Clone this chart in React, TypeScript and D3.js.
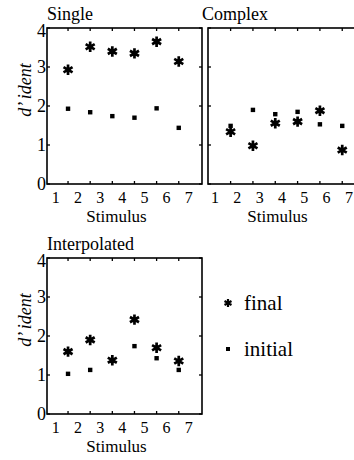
import React from "react";
import * as d3 from "d3";

// ---- data ----
const stimuli = [1, 2, 3, 4, 5, 6];
const tickLabelsX = [1, 2, 3, 4, 5, 6, 7];
const tickLabelsY = [0, 1, 2, 3, 4];

const singleFinal = [2.93, 3.52, 3.4, 3.35, 3.65, 3.14];
const singleInitial = [1.93, 1.84, 1.74, 1.7, 1.94, 1.44];
const complexFinal = [1.34, 0.98, 1.56, 1.6, 1.88, 0.87];
const complexInitial = [1.49, 1.9, 1.79, 1.85, 1.53, 1.49];
const interpFinal = [1.6, 1.9, 1.38, 2.42, 1.7, 1.36];
const interpInitial = [1.03, 1.13, 1.36, 1.74, 1.43, 1.13];

const panelTitles = ["Single", "Complex", "Interpolated"];
const legendLabels = ["final", "initial"];

const W = 354;
const H = 460;
const FONT = "Liberation Serif";

type Panel = {
  title: string;
  final: number[];
  initial: number[];
  x0: number;
  y0: number;
  w: number;
  h: number;
  domX: [number, number];
  off: number;
  showY: boolean;
};

const panels: Panel[] = [
  { title: panelTitles[0], final: singleFinal, initial: singleInitial, x0: 47, y0: 28, w: 155, h: 156, domX: [0.6, 7.6], off: 0.55, showY: true },
  { title: panelTitles[1], final: complexFinal, initial: complexInitial, x0: 208, y0: 28, w: 155, h: 156, domX: [0.687, 7.63], off: 0.7, showY: false },
  { title: panelTitles[2], final: interpFinal, initial: interpInitial, x0: 47, y0: 258, w: 155, h: 156, domX: [0.6, 7.6], off: 0.55, showY: true },
];

const starPath = (r: number) => d3.symbol(d3.symbolAsterisk, r * r * 2.83)();

function Star({ x, y, r = 5.2, sw = 2.7 }: { x: number; y: number; r?: number; sw?: number }) {
  return (
    <g transform={`translate(${x},${y})`}>
      <path d={starPath(r) || ""} stroke="#000" strokeWidth={sw} fill="none" strokeLinecap="butt" />
      <circle r={r * 0.45} fill="#000" />
    </g>
  );
}

const txt = (size: number, extra: React.CSSProperties = {}): React.CSSProperties => ({
  fontFamily: FONT,
  fontSize: size,
  ...extra,
});

function PanelView({ p }: { p: Panel }) {
  const x = d3.scaleLinear().domain(p.domX).range([p.x0, p.x0 + p.w]);
  const y = d3.scaleLinear().domain([0, 4]).range([p.y0 + p.h, p.y0]);
  const tl = 3;
  const bottom = p.y0 + p.h;
  const right = p.x0 + p.w;
  return (
    <g>
      <text x={p.x0 - (p.showY ? 0 : 6)} y={p.y0 - 8} style={txt(18)}>
        {p.title}
      </text>
      <rect x={p.x0} y={p.y0} width={p.w} height={p.h} fill="none" stroke="#000" strokeWidth={1.6} />
      {stimuli.map((s) => (
        <g key={"xt" + s}>
          <line x1={x(s + p.off)} x2={x(s + p.off)} y1={bottom} y2={bottom - tl} stroke="#000" strokeWidth={1.3} />
          <line x1={x(s + p.off)} x2={x(s + p.off)} y1={p.y0} y2={p.y0 + tl} stroke="#000" strokeWidth={1.3} />
        </g>
      ))}
      {tickLabelsY.map((v) => (
        <g key={"yt" + v}>
          <line x1={p.x0} x2={p.x0 + tl} y1={y(v)} y2={y(v)} stroke="#000" strokeWidth={1.3} />
          <line x1={right} x2={right - tl} y1={y(v)} y2={y(v)} stroke="#000" strokeWidth={1.3} />
          {p.showY && (
            <text x={p.x0 - 1} y={y(v) + (v === 4 ? 9 : 6)} textAnchor="end" style={txt(18)}>
              {v}
            </text>
          )}
        </g>
      ))}
      {tickLabelsX.map((v) => (
        <text key={"xl" + v} x={x(v)} y={bottom + 19} textAnchor="middle" style={txt(16)}>
          {v}
        </text>
      ))}
      <text x={p.x0 + p.w / 2 - 8} y={bottom + 38} textAnchor="middle" style={txt(17)}>
        Stimulus
      </text>
      {p.showY && (
        <text
          transform={`translate(31,${p.y0 + 62}) rotate(-90)`}
          textAnchor="middle"
          style={txt(18, { fontStyle: "italic" })}
        >
          d’ ident
        </text>
      )}
      {p.initial.map((v, i) => (
        <rect key={"in" + i} x={x(stimuli[i] + p.off) - 2.2} y={y(v) - 2.2} width={4.4} height={4.4} fill="#000" />
      ))}
      {p.final.map((v, i) => (
        <Star key={"fi" + i} x={x(stimuli[i] + p.off)} y={y(v)} />
      ))}
    </g>
  );
}

export default function App() {
  return (
    <svg width={W} height={H} style={{ position: "absolute", left: 0, top: 0, background: "#fff" }}>
      <rect width={W} height={H} fill="#fff" />
      {panels.map((p) => (
        <PanelView key={p.title} p={p} />
      ))}
      <Star x={228} y={303} r={4} sw={2.2} />
      <text x={244} y={310} style={txt(21)}>
        {legendLabels[0]}
      </text>
      <rect x={226} y={347} width={4} height={4} fill="#000" />
      <text x={244} y={356} style={txt(21)}>
        {legendLabels[1]}
      </text>
    </svg>
  );
}
